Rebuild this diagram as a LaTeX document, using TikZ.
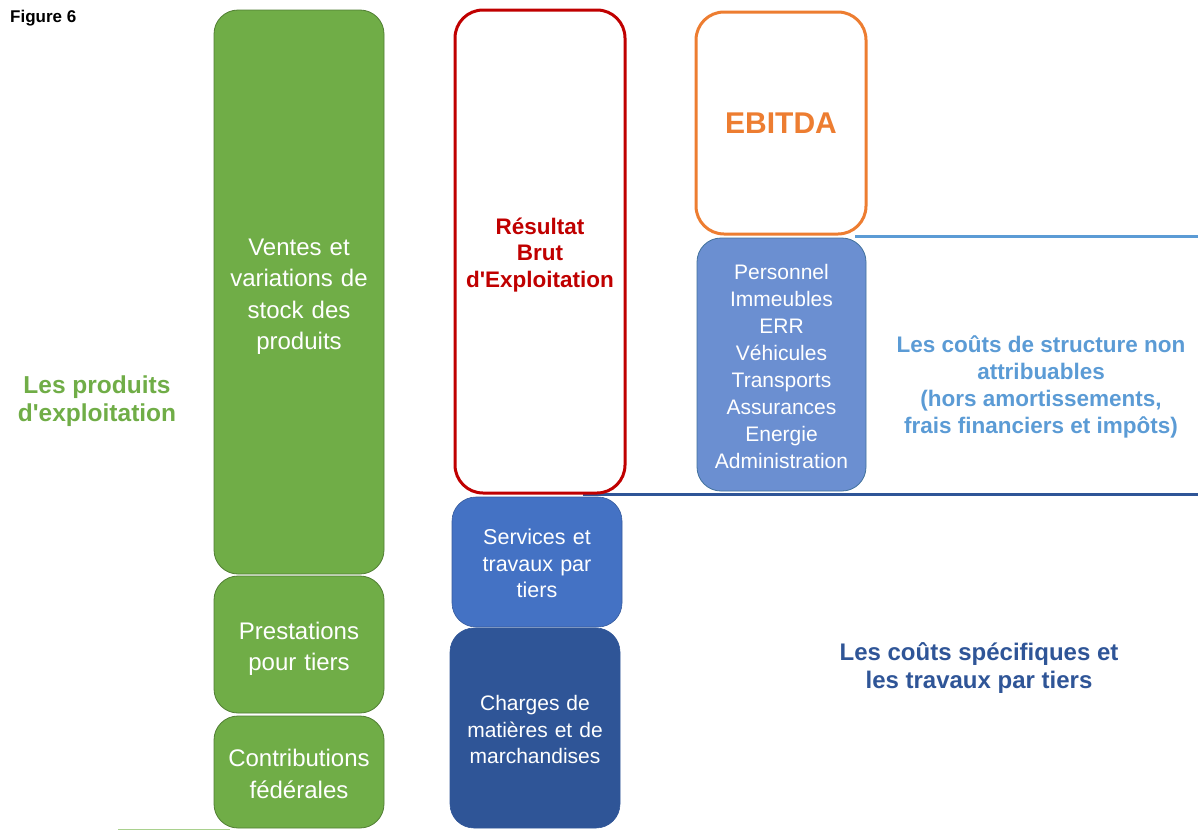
\documentclass[tikz,border=0pt]{standalone}
\usepackage{fontspec}
\setmainfont{Liberation Sans}[Ligatures=TeXOff]
\definecolor{gfill}{HTML}{70AD47}
\definecolor{gline}{HTML}{507E32}
\definecolor{rred}{HTML}{C00000}
\definecolor{oor}{HTML}{ED7D31}
\definecolor{pfill}{HTML}{6B8FD1}
\definecolor{pline}{HTML}{41719C}
\definecolor{sfill}{HTML}{4472C4}
\definecolor{cfill}{HTML}{2F5597}
\definecolor{lblue}{HTML}{5B9BD5}
\definecolor{dblue}{HTML}{2F5597}
\definecolor{lgrn}{HTML}{A9D18E}
\newcommand{\tstrut}{\vrule height \dimexpr 0.7\baselineskip+8pt\relax depth 0pt width 0pt\relax}
\tikzset{
  box/.style={rounded corners=24pt, inner sep=0pt, align=center, text width=160pt},
  gbox/.style={box, fill=gfill, draw=gline, line width=0.8pt, text=white,
    font=\fontsize{24}{31.5}\selectfont},
  rbox/.style={box, draw=rred, line width=3pt, rounded corners=28pt, text=rred,
    font=\bfseries\fontsize{22.5}{26.5}\selectfont},
  obox/.style={box, draw=oor, line width=3pt, rounded corners=28pt, text=oor,
    font=\bfseries\fontsize{30}{34}\selectfont},
  pbox/.style={box, fill=pfill, draw=pline, line width=0.8pt, text=white,
    font=\fontsize{21}{27}\selectfont},
  sbox/.style={box, fill=sfill, draw=sfill!80!black, line width=0.6pt, text=white,
    font=\fontsize{21.5}{26.5}\selectfont},
  cbox/.style={box, fill=cfill, draw=cfill, line width=0.6pt, text=white,
    font=\fontsize{21}{26.5}\selectfont},
  lbl/.style={inner sep=0pt, align=center, font=\bfseries}
}
\begin{document}
\begin{tikzpicture}[x=1pt,y=-1pt]
\useasboundingbox (0,0) rectangle (1198,830);
% lines
\coordinate (lbs) at (855,236);
\coordinate (lbe) at (1198,236);
\coordinate (dbs) at (583,494);
\coordinate (dbe) at (1198,494);
\coordinate (gls) at (118,829);
\coordinate (gle) at (230,829);
\draw[lgrn, line width=1pt] (gls) -- (gle);
\draw[lblue, line width=3pt] (lbs) -- (lbe);
\draw[dblue, line width=3pt] (dbs) -- (dbe);
% green column
\node[gbox, minimum width=170pt, minimum height=564pt] (ventes) at (299,292)
  {\tstrut Ventes et\\variations de\\stock des\\produits\strut};
\node[gbox, minimum width=170pt, minimum height=137pt] (prest) at (299,644.5)
  {\tstrut Prestations\\pour tiers\strut};
\node[gbox, minimum width=170pt, minimum height=112pt] (contrib) at (299,772)
  {\tstrut Contributions\\fédérales\strut};
% red
\node[rbox, fill=white, minimum width=170pt, minimum height=483pt] (rbe) at (540,251.5)
  {\tstrut Résultat\\Brut\\d'Exploitation\strut};
% services / charges
\node[sbox, minimum width=170pt, minimum height=130pt] (serv) at (537,562)
  {\tstrut Services et\\travaux par\\tiers\strut};
\node[cbox, minimum width=170pt, minimum height=200pt] (charg) at (535,728)
  {\tstrut Charges de\\matières et de\\marchandises\strut};
% EBITDA
\node[obox, fill=white, minimum width=170pt, minimum height=222pt] (ebitda) at (781,123)
  {\tstrut EBITDA\strut};
% personnel
\node[pbox, minimum width=169pt, minimum height=253pt] (pers) at (781.5,364.5)
  {\tstrut Personnel\\Immeubles\\ERR\\Véhicules\\Transports\\Assurances\\Energie\\Administration\strut};
% labels
\node[lbl, anchor=west, font=\bfseries\fontsize{17}{20}\selectfont] (fig) at (10,18) {Figure 6};
\node[lbl, text=gfill, font=\bfseries\fontsize{24.5}{28}\selectfont] (prod) at (97,402)
  {\strut Les produits\\d'exploitation\strut};
\node[lbl, text=lblue, font=\bfseries\fontsize{22.5}{27}\selectfont] (struct) at (1041,388)
  {\strut Les coûts de structure non\\attribuables\\(hors amortissements,\\frais financiers et impôts)\strut};
\node[lbl, text=dblue, font=\bfseries\fontsize{24}{28}\selectfont] (spec) at (979,669)
  {\strut Les coûts spécifiques et\\les travaux par tiers\strut};
\end{tikzpicture}
\end{document}
